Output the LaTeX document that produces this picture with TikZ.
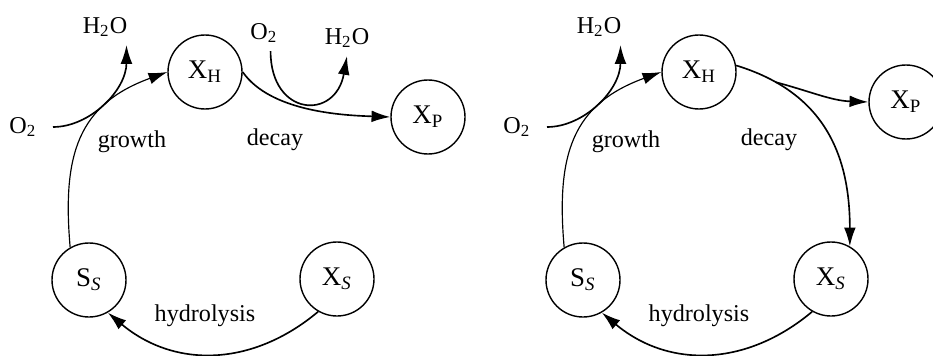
\documentclass[tikz,border=0pt]{standalone}
\usepackage{fontspec}
\setmainfont{Liberation Serif}
\usetikzlibrary{arrows.meta}
\tikzset{
  st/.style={circle,draw,line width=0.6pt,minimum size=1.11cm,inner sep=0pt,font=\fontsize{11.5pt}{13pt}\selectfont},
  lb/.style={font=\fontsize{10.3pt}{12pt}\selectfont},
  ar/.style={-{Latex[length=8pt,width=5pt]},line width=0.7pt}
}
\begin{document}
\begin{tikzpicture}[x=0.015cm,y=0.015cm]
\useasboundingbox (0,0) rectangle (933,355);
% both cycles
\foreach \dx/\k in {0/L,494/R}{
  \node[st] (XH\k) at (205+\dx,283) {X\textsubscript{H}};
  \node[st] (SS\k) at (89+\dx,75) {S\textsubscript{\itshape S}};
  \node[st] (XS\k) at (337+\dx,76) {X\textsubscript{\itshape S}};
  \node[lb] (Oa\k) at (23+\dx,228) {O\textsubscript{2}};
  \node[lb] (Wa\k) at (105+\dx,328) {H\textsubscript{2}O};
  \node[lb] (gr\k) at (132+\dx,213) {growth};
  \node[lb] (dc\k) at (275+\dx,215) {decay};
  \node[lb] (hy\k) at (205+\dx,39) {hydrolysis};
  \draw[ar,line width=0.5pt] (SS\k.120) to[out=95,in=200,looseness=1.2] (XH\k.west);
  \draw[ar,shorten <=3.5pt] (Oa\k.east) to[out=0,in=-90] (Wa\k.-40);
  \draw[ar] (XS\k.-120) to[out=-140,in=-40,looseness=1.05] (SS\k.-60);
}
% left: decay straight to X_P
\node[st] (XPL) at (428,238) {X\textsubscript{P}};
\node[lb] (Ob) at (264,322) {O\textsubscript{2}};
\node[lb] (Wb) at (347,317) {H\textsubscript{2}O};
\draw[ar] (XHL.east) to[out=-55,in=178,looseness=0.8] (XPL.west);
\draw[ar] (Ob.-70) to[out=-90,in=-100,looseness=2.2] (Wb.south);
% right: decay back to X_S, branch to X_P
\node[st] (XPR) at (906,253) {X\textsubscript{P}};
\draw[ar] (XHR.10) to[out=-17,in=90,looseness=1.1] coordinate[pos=0.17] (brR) (XSR.60);
\draw[ar] (brR) to[out=-15,in=178] (XPR.west);
\end{tikzpicture}
\end{document}
